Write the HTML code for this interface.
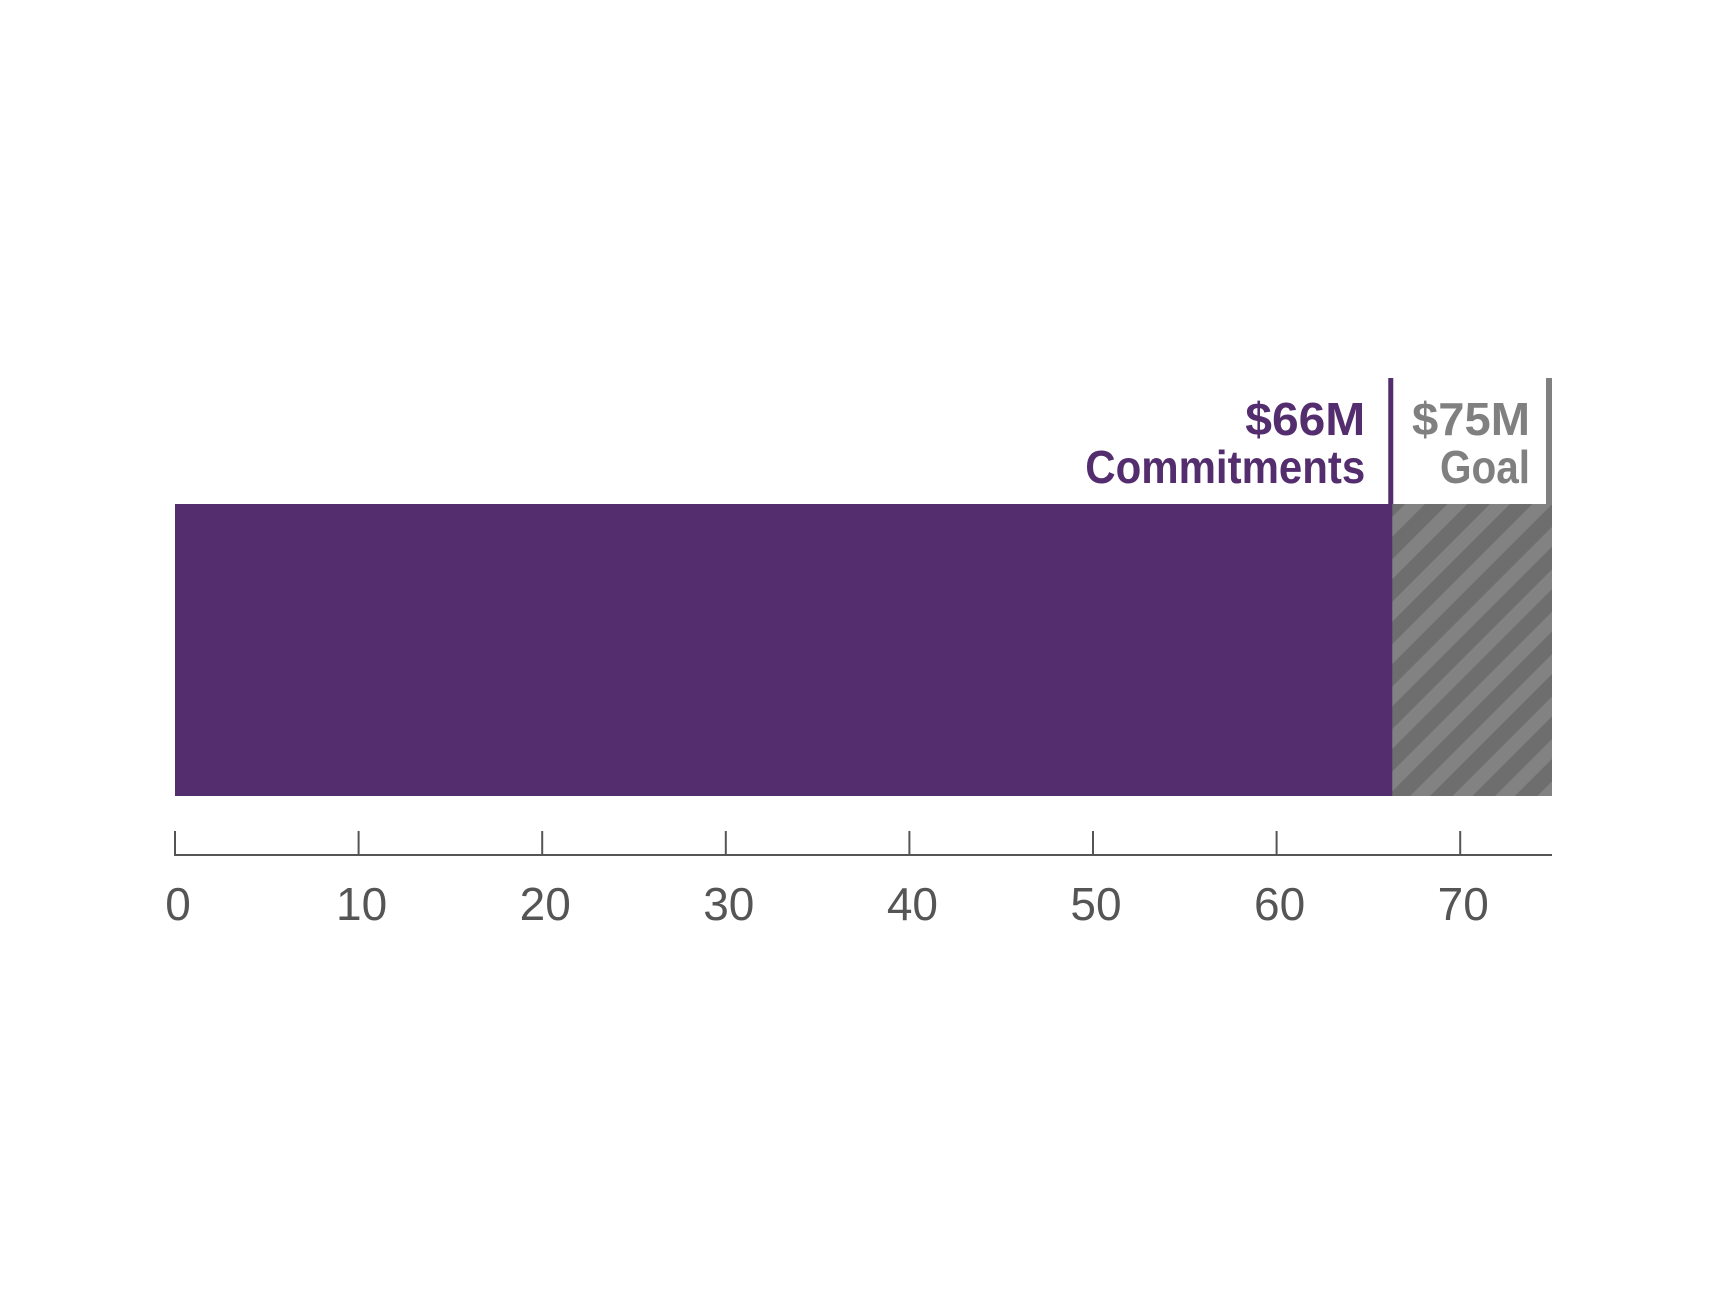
<!DOCTYPE html>
<html><head><meta charset="utf-8"><style>
html,body{margin:0;padding:0;background:#fff;}
svg{display:block;}
text{font-family:"Liberation Sans",sans-serif;}
</style></head><body>
<svg id="chart" width="1728" height="1296" viewBox="0 0 1728 1296" xmlns="http://www.w3.org/2000/svg">
<defs>
<pattern id="stripes" patternUnits="userSpaceOnUse" width="30" height="30" patternTransform="rotate(45)">
<rect x="0" y="0" width="30" height="30" fill="#6e6e6e"/>
<rect x="0" y="0" width="14" height="30" fill="#828282"/>
</pattern>
</defs>
<g id="marks"></g>
<g id="axis"></g>
</svg>
<script>
const ticks = [0,10,20,30,40,50,60,70];
const commitments = [66.3];
const goal = [75];
const labelsCommit = ["$66M","Commitments"];
const labelsGoal = ["$75M","Goal"];

const NS = "http://www.w3.org/2000/svg";
const x0 = 175, pxPerUnit = 1377/75;
function xs(v){ return x0 + v*pxPerUnit; }
const barTop = 504, barBot = 796;
const marks = document.getElementById('marks');
const axis = document.getElementById('axis');
function mk(tag, attrs, parent){ const e=document.createElementNS(NS,tag); for(const k in attrs) e.setAttribute(k,attrs[k]); parent.appendChild(e); return e; }

const g = mk('rect',{x:xs(0),y:barTop,width:xs(goal[0])-xs(0),height:barBot-barTop,fill:'url(#stripes)'},marks);


const c = mk('rect',{x:xs(0),y:barTop,width:xs(commitments[0])-xs(0),height:barBot-barTop,fill:'#532d6d'},marks);



const cl = mk('rect',{x:xs(commitments[0])-4,y:378,width:5,height:barTop-378,fill:'#532d6d'},marks);


const gl = mk('rect',{x:xs(goal[0])-6,y:378,width:6,height:barTop-378,fill:'#808080'},marks);



function lab(txt,x,y,col,size,len,name){
  const t = mk('text',{x:x,y:y,'text-anchor':'end',fill:col,'font-size':size,'font-weight':'bold',textLength:len,lengthAdjust:'spacingAndGlyphs'},marks);
  t.textContent = txt;
  
  
}
lab(labelsCommit[0], xs(commitments[0])-27, 435, '#532d6d', 46, 120, 'commitments-value-label');
lab(labelsCommit[1], xs(commitments[0])-27, 483, '#532d6d', 46, 280, 'commitments-label');
lab(labelsGoal[0], xs(goal[0])-22, 435, '#808080', 46, 118, 'goal-value-label');
lab(labelsGoal[1], xs(goal[0])-22, 483, '#808080', 46, 90, 'goal-label');

const line = mk('line',{x1:xs(0),y1:855,x2:xs(goal[0]),y2:855,stroke:'#555',"stroke-width":2},axis);


ticks.forEach(v=>{
  const tk = mk('line',{x1:xs(v),y1:831,x2:xs(v),y2:856,stroke:'#555',"stroke-width":2},axis);
  
  
  const t = mk('text',{x:xs(v)+3,y:920,'text-anchor':'middle',fill:'#555','font-size':46},axis);
  t.textContent = v;
  
  
});
</script>
</body></html>
